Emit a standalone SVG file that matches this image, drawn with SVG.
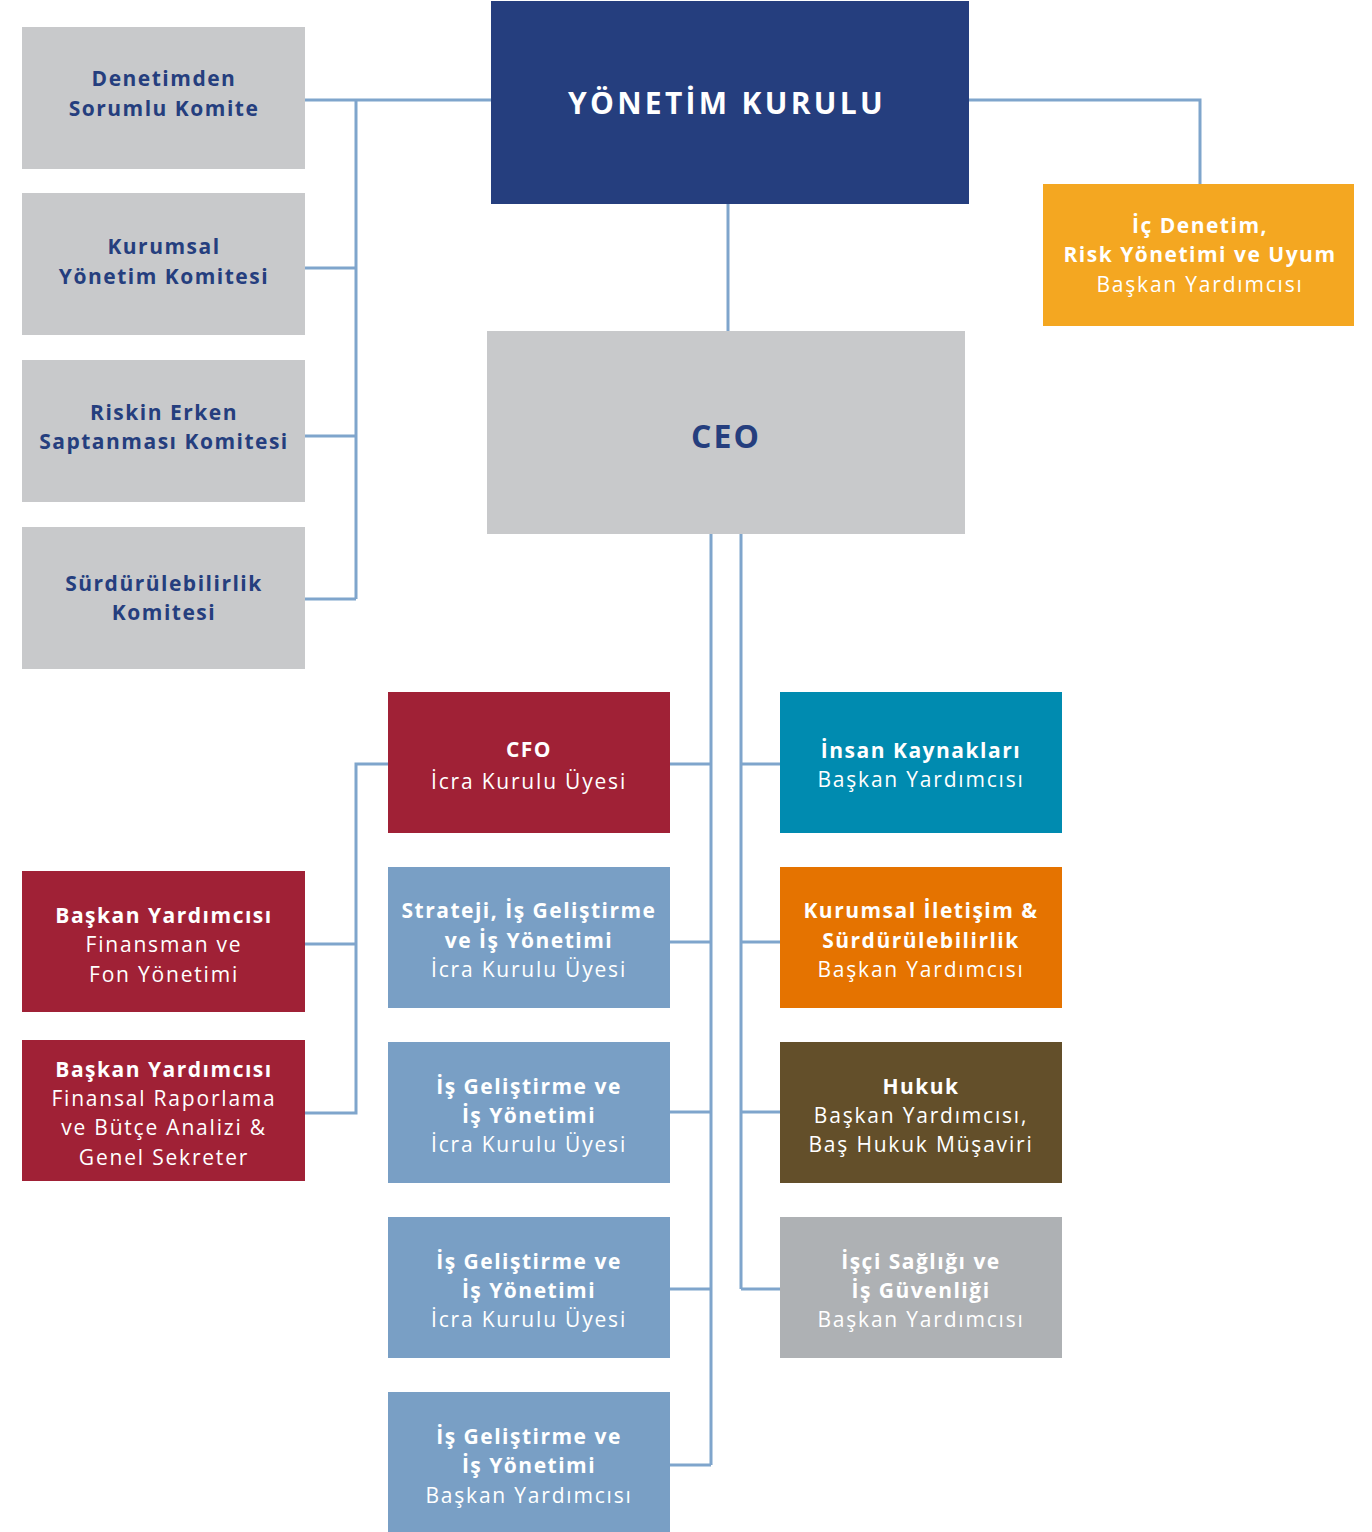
<svg xmlns="http://www.w3.org/2000/svg" width="1372" height="1532" viewBox="0 0 1372 1532">
<style>
text{font-family:"Open Sans","Noto Sans","Liberation Sans",sans-serif;text-anchor:middle;font-size:21px;letter-spacing:1.8px}
.b{font-weight:700;letter-spacing:1.5px}
.w{fill:#ffffff}
.d{fill:#253e7e}
.c{fill:none;stroke:#7fa5cc;stroke-width:3}
</style>
<rect width="1372" height="1532" fill="#ffffff"/>
<g id="connectors" class="c">
<path d="M305 100H491M356 100V599M305 268H356M305 436H356M305 599H356"/>
<path d="M969 100H1200V184"/>
<path d="M728 204V331"/>
<path d="M711 534V1465M670 764H711M670 942H711M670 1112H711M670 1289H711M670 1465H711"/>
<path d="M741 534V1289M741 764H780M741 942H780M741 1112H780M741 1289H780"/>
<path d="M388 764H356V1113H305M305 944H356"/>
</g>
<g id="yk"><rect x="491" y="1" width="478" height="203" fill="#253e7e"/><text x="727" y="114" class="b w" style="font-size:30px;letter-spacing:3.3px">YÖNETİM KURULU</text></g>
<g id="k1"><rect x="22" y="27" width="283" height="142" fill="#c8c9cb"/><text class="b d" x="164" y="86">Denetimden</text><text class="b d" x="164" y="116">Sorumlu Komite</text></g>
<g id="k2"><rect x="22" y="193" width="283" height="142" fill="#c8c9cb"/><text class="b d" x="164" y="254">Kurumsal</text><text class="b d" x="164" y="284">Yönetim Komitesi</text></g>
<g id="k3"><rect x="22" y="360" width="283" height="142" fill="#c8c9cb"/><text class="b d" x="164" y="420">Riskin Erken</text><text class="b d" x="164" y="449">Saptanması Komitesi</text></g>
<g id="k4"><rect x="22" y="527" width="283" height="142" fill="#c8c9cb"/><text class="b d" x="164" y="591">Sürdürülebilirlik</text><text class="b d" x="164" y="620">Komitesi</text></g>
<g id="ic"><rect x="1043" y="184" width="311" height="142" fill="#f4a721"/><text class="b w" x="1200" y="233">İç Denetim,</text><text class="b w" x="1200" y="262">Risk Yönetimi ve Uyum</text><text class="w" x="1200" y="292">Başkan Yardımcısı</text></g>
<g id="ceo"><rect x="487" y="331" width="478" height="203" fill="#c8c9cb"/><text x="726" y="448" class="b d" style="font-size:32px;letter-spacing:2px">CEO</text></g>
<g id="cfo"><rect x="388" y="692" width="282" height="141" fill="#a02136"/><text class="b w" x="529" y="757">CFO</text><text class="w" x="529" y="789">İcra Kurulu Üyesi</text></g>
<g id="str"><rect x="388" y="867" width="282" height="141" fill="#799fc5"/><text class="b w" x="529" y="918">Strateji, İş Geliştirme</text><text class="b w" x="529" y="948">ve İş Yönetimi</text><text class="w" x="529" y="977">İcra Kurulu Üyesi</text></g>
<g id="ig1"><rect x="388" y="1042" width="282" height="141" fill="#799fc5"/><text class="b w" x="529" y="1094">İş Geliştirme ve</text><text class="b w" x="529" y="1123">İş Yönetimi</text><text class="w" x="529" y="1152">İcra Kurulu Üyesi</text></g>
<g id="ig2"><rect x="388" y="1217" width="282" height="141" fill="#799fc5"/><text class="b w" x="529" y="1269">İş Geliştirme ve</text><text class="b w" x="529" y="1298">İş Yönetimi</text><text class="w" x="529" y="1327">İcra Kurulu Üyesi</text></g>
<g id="ig3"><rect x="388" y="1392" width="282" height="140" fill="#799fc5"/><text class="b w" x="529" y="1444">İş Geliştirme ve</text><text class="b w" x="529" y="1473">İş Yönetimi</text><text class="w" x="529" y="1503">Başkan Yardımcısı</text></g>
<g id="ik"><rect x="780" y="692" width="282" height="141" fill="#008bb0"/><text class="b w" x="921" y="758">İnsan Kaynakları</text><text class="w" x="921" y="787">Başkan Yardımcısı</text></g>
<g id="ki"><rect x="780" y="867" width="282" height="141" fill="#e57300"/><text class="b w" x="921" y="918">Kurumsal İletişim &amp;</text><text class="b w" x="921" y="948">Sürdürülebilirlik</text><text class="w" x="921" y="977">Başkan Yardımcısı</text></g>
<g id="hk"><rect x="780" y="1042" width="282" height="141" fill="#634f2a"/><text class="b w" x="921" y="1094">Hukuk</text><text class="w" x="921" y="1123">Başkan Yardımcısı,</text><text class="w" x="921" y="1152">Baş Hukuk Müşaviri</text></g>
<g id="is"><rect x="780" y="1217" width="282" height="141" fill="#aeb1b4"/><text class="b w" x="921" y="1269">İşçi Sağlığı ve</text><text class="b w" x="921" y="1298">İş Güvenliği</text><text class="w" x="921" y="1327">Başkan Yardımcısı</text></g>
<g id="fn"><rect x="22" y="871" width="283" height="141" fill="#a02136"/><text class="b w" x="164" y="923">Başkan Yardımcısı</text><text class="w" x="164" y="952">Finansman ve</text><text class="w" x="164" y="982">Fon Yönetimi</text></g>
<g id="fr"><rect x="22" y="1040" width="283" height="141" fill="#a02136"/><text class="b w" x="164" y="1077">Başkan Yardımcısı</text><text class="w" x="164" y="1106">Finansal Raporlama</text><text class="w" x="164" y="1135">ve Bütçe Analizi &amp;</text><text class="w" x="164" y="1165">Genel Sekreter</text></g>
</svg>
